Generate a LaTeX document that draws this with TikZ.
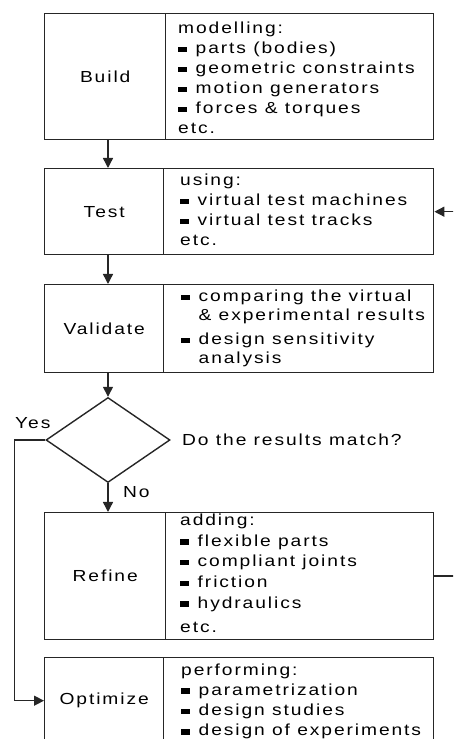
\documentclass[tikz,border=0pt]{standalone}
\usepackage{fontspec}
\setmainfont{Liberation Sans}[FakeStretch=1.2,LetterSpace=12]
\usetikzlibrary{arrows.meta,shapes.geometric}
\newcommand\bul{\raisebox{1.5pt}{\rule{8.5pt}{5.5pt}}\hspace{9pt}}
\newcommand\ind{\hspace{17.5pt}}
\tikzset{
  ln/.style={line width=1.4pt,draw=black!85},
  cell/.style={ln,rectangle,inner sep=0pt,anchor=north west,font=\fontsize{16}{20}\selectfont},
  txt/.style={inner sep=0pt,anchor=base west,align=left,font=\fontsize{16}{20}\selectfont},
  arr/.style={ln,-{Triangle[length=10pt,width=10pt]}},
}
\begin{document}
\begin{tikzpicture}[x=1pt,y=1pt]
\useasboundingbox (0,0) rectangle (453,739);
\clip (0,0) rectangle (453,739);
% Build
\node[cell,minimum width=121,minimum height=126] (build) at (44,726) {Build};
\node[cell,minimum width=268,minimum height=126] (buildR) at (165,726) {};
\node[txt] (buildT) at (178,605) {modelling:\\ \bul parts (bodies)\\ \bul geometric constraints\\ \bul motion generators\\ \bul forces \& torques\\ etc.};
% Test
\node[cell,minimum width=119,minimum height=86] (test) at (44,571) {Test};
\node[cell,minimum width=270,minimum height=86] (testR) at (163,571) {};
\node[txt] (testT) at (180,493) {using:\\ \bul virtual test machines\\ \bul virtual test tracks\\ etc.};
% Validate
\node[cell,minimum width=119,minimum height=88] (val) at (44,455) {Validate};
\node[cell,minimum width=270,minimum height=88] (valR) at (163,455) {};
\node[txt,font=\fontsize{16}{19}\selectfont] (valT) at (181,375) {\bul comparing the virtual\\ \ind\& experimental results\\[5pt] \bul design sensitivity\\ \ind analysis};
% Decision
\node[ln,diamond,minimum width=124,minimum height=85,inner sep=0pt] (dia) at (108,299) {};
\node[txt] (q) at (182,293) {Do the results match?};
\node[txt] (yes) at (15,310) {Yes};
\node[txt] (no) at (123,241) {No};
% Refine
\node[cell,minimum width=121,minimum height=127] (ref) at (44,227) {Refine};
\node[cell,minimum width=268,minimum height=127] (refR) at (165,227) {};
\node[txt,font=\fontsize{16}{20.7}\selectfont] (refT) at (180,106) {adding:\\ \bul flexible parts\\ \bul compliant joints\\ \bul friction\\ \bul hydraulics\\[4pt] etc.};
% Optimize
\node[cell,minimum width=119,minimum height=86] (opt) at (44,82) {Optimize};
\node[cell,minimum width=270,minimum height=86] (optR) at (163,82) {};
\node[txt,font=\fontsize{16}{20.3}\selectfont] (optT) at (181,3) {performing:\\ \bul parametrization\\ \bul design studies\\ \bul design of experiments};
% connectors
\draw[arr] (build.south -| dia) -- (test.north -| dia);
\draw[arr] (test.south -| dia) -- (val.north -| dia);
\draw[arr] (val.south -| dia) -- (dia.north);
\draw[arr] (dia.south) -- (ref.north -| dia);
\draw[arr] (dia.west) -- ++(-31,0) |- (opt.west);
\draw[arr] (refR.east) -- ++(40,0) |- (testR.east);
\end{tikzpicture}
\end{document}
